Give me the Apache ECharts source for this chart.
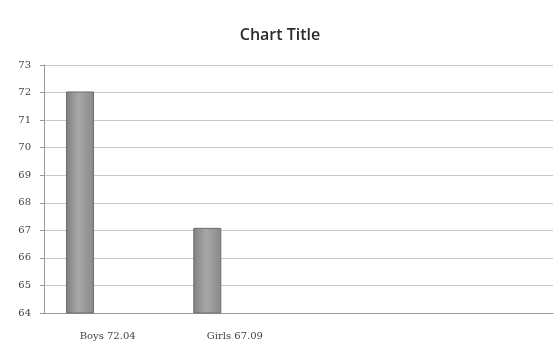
<!DOCTYPE html>
<html>
<head>
<meta charset="utf-8">
<script src="https://cdn.jsdelivr.net/npm/echarts@6/dist/echarts.min.js"></script>
<style>
  html, body { margin: 0; padding: 0; background: #fff; }
  #chart { width: 560px; height: 356px; }
</style>
</head>
<body>
<div id="chart"></div>
<script>
// chart data
var categories = ['Boys 72.04', 'Girls 67.09', '', '']
var scores = [72.04, 67.09, null, null]
var yTicks = [64, 65, 66, 67, 68, 69, 70, 71, 72, 73]

var chart = echarts.init(document.getElementById('chart'))

var barFill = new echarts.graphic.LinearGradient(0, 0, 1, 0, [
  { offset: 0, color: '#808080' },
  { offset: 0.45, color: '#a8a8a8' },
  { offset: 1, color: '#888888' }
])

chart.setOption({
  animation: false,
  title: {
    text: 'Chart Title',
    left: 'center',
    top: 22,
    textStyle: {
      fontFamily: 'Open Sans',
      fontSize: 16,
      fontWeight: 600,
      color: '#2b2b2b'
    }
  },
  grid: {
    left: 44,
    right: 7,
    top: 65,
    bottom: 43
  },
  xAxis: {
    type: 'category',
    data: categories,
    axisTick: { show: false },
    axisLine: { lineStyle: { color: '#999', width: 1 } },
    axisLabel: {
      fontFamily: 'DejaVu Serif',
      fontSize: 10,
      color: '#444',
      margin: 18
    }
  },
  yAxis: {
    type: 'value',
    min: yTicks[0],
    max: yTicks[yTicks.length - 1],
    interval: 1,
    axisLine: { show: true, lineStyle: { color: '#999' } },
    axisTick: { show: true, length: 4, lineStyle: { color: '#999' } },
    axisLabel: {
      fontFamily: 'DejaVu Serif',
      fontSize: 10,
      color: '#444',
      margin: 13
    },
    splitLine: { lineStyle: { color: '#c8c8c8', width: 1 } }
  },
  series: [
    {
      type: 'bar',
      data: scores,
      barWidth: 28,
      barGap: '97%',
      itemStyle: {
        color: barFill,
        borderColor: '#6e6e6e',
        borderWidth: 1
      }
    },
    {
      type: 'bar',
      data: [null, null, null, null],
      barWidth: 28
    }
  ]
})
</script>
</body>
</html>
